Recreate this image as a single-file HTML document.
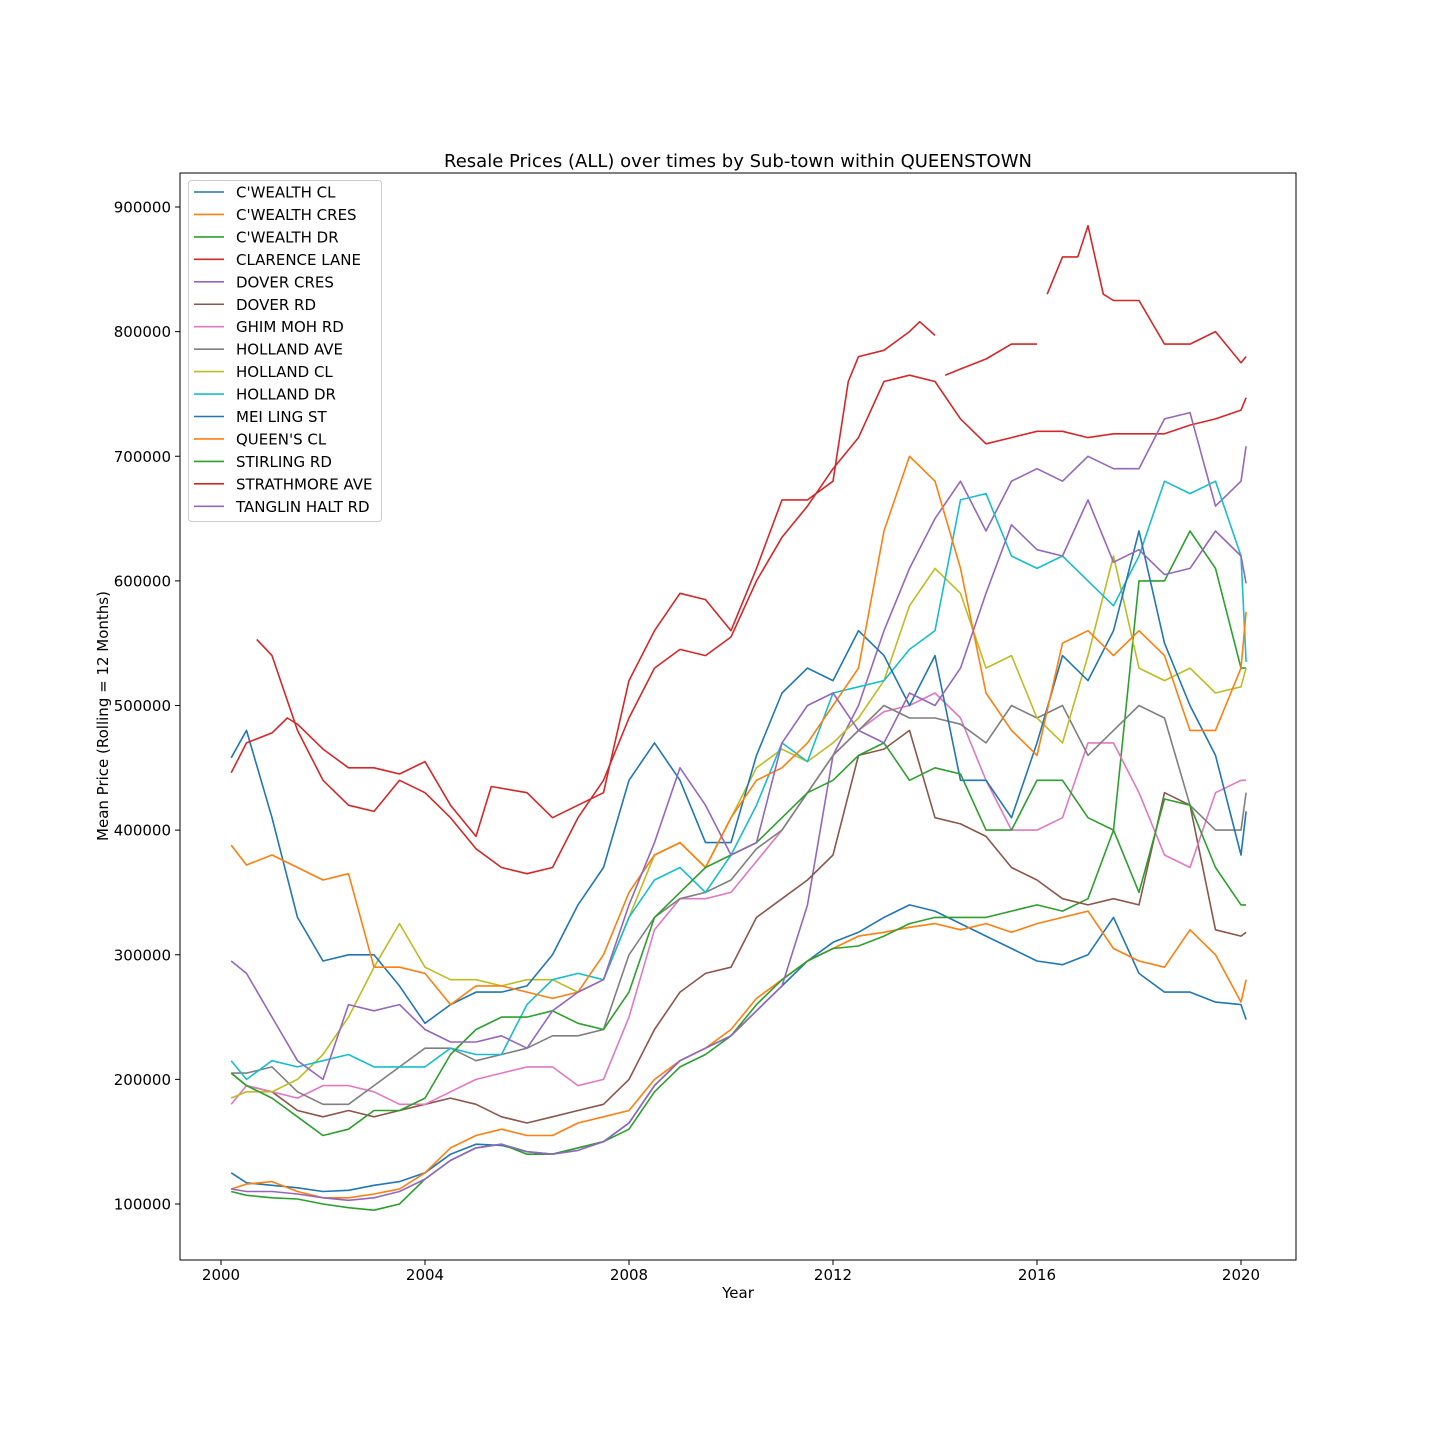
<!DOCTYPE html>
<html><head><meta charset="utf-8"><style>
html,body{margin:0;padding:0;background:#fff;}
svg{display:block;font-family:"DejaVu Sans","Liberation Sans",sans-serif;}
</style></head><body>
<svg id="chart" width="1440" height="1440" viewBox="0 0 1440 1440"></svg>
<script>
const grid = [2000.2,2000.5,2001,2001.5,2002,2002.5,2003,2003.5,2004,2004.5,2005,2005.5,2006,2006.5,2007,2007.5,2008,2008.5,2009,2009.5,2010,2010.5,2011,2011.5,2012,2012.5,2013,2013.5,2014,2014.5,2015,2015.5,2016,2016.5,2017,2017.5,2018,2018.5,2019,2019.5,2020,2020.1];
const seriesNames = ["C'WEALTH CL","C'WEALTH CRES","C'WEALTH DR","CLARENCE LANE","DOVER CRES","DOVER RD","GHIM MOH RD","HOLLAND AVE","HOLLAND CL","HOLLAND DR","MEI LING ST","QUEEN'S CL","STIRLING RD","STRATHMORE AVE","TANGLIN HALT RD"];
const xTicks = [2000,2004,2008,2012,2016,2020];
const yTicks = [100000,200000,300000,400000,500000,600000,700000,800000,900000];
// values in thousands
const cwealthCl = [125,117,115,113,110,111,115,118,125,140,148,147,142,140,145,150,165,195,215,225,235,255,275,295,310,318,330,340,335,325,315,305,295,292,300,330,285,270,270,262,260,248];
const cwealthCres = [112,116,118,110,105,105,108,112,125,145,155,160,155,155,165,170,175,200,215,225,240,265,280,295,305,315,318,322,325,320,325,318,325,330,335,305,295,290,320,300,262,280];
const cwealthDr = [110,107,105,104,100,97,95,100,120,135,145,148,140,140,145,150,160,190,210,220,235,260,280,295,305,307,315,325,330,330,330,335,340,335,345,400,600,600,640,610,530,530];
const clarenceDates = [2000.7,2001,2001.5,2002,2002.5,2003,2003.5,2004,2004.5,2005,2005.5,2006,2006.5,2007,2007.5,2008,2008.5,2009,2009.5,2010,2010.5,2011,2011.5,2012,2012.5,2013,2013.5,2014,2014.5,2015,2015.5,2016,2016.5,2017,2017.5,2018,2018.5,2019,2019.5,2020,2020.1];
const clarenceLane = [553,540,480,440,420,415,440,430,410,385,370,365,370,410,440,490,530,545,540,555,600,635,660,690,715,760,765,760,730,710,715,720,720,715,718,718,718,725,730,737,747];
const doverCres = [112,110,110,108,105,103,105,110,120,135,145,148,142,140,143,150,165,195,215,225,235,255,275,340,460,500,560,610,650,680,640,680,690,680,700,690,690,730,735,660,680,708];
const doverRd = [205,195,190,175,170,175,170,175,180,185,180,170,165,170,175,180,200,240,270,285,290,330,345,360,380,460,465,480,410,405,395,370,360,345,340,345,340,430,420,320,315,318];
const ghimMohRd = [180,195,190,185,195,195,190,180,180,190,200,205,210,210,195,200,250,320,345,345,350,375,400,430,460,480,495,500,510,490,440,400,400,410,470,470,430,380,370,430,440,440];
const hollandAve = [205,205,210,190,180,180,195,210,225,225,215,220,225,235,235,240,300,330,345,350,360,385,400,430,460,480,500,490,490,485,470,500,490,500,460,480,500,490,420,400,400,430];
const hollandCl = [185,190,190,200,220,250,290,325,290,280,280,275,280,280,270,280,330,380,390,370,410,450,465,455,470,490,520,580,610,590,530,540,490,470,540,620,530,520,530,510,515,530];
const hollandDr = [215,200,215,210,215,220,210,210,210,225,220,220,260,280,285,280,330,360,370,350,380,420,470,455,510,515,520,545,560,665,670,620,610,620,600,580,620,680,670,680,620,535];
const meiLingSt = [458,480,410,330,295,300,300,275,245,260,270,270,275,300,340,370,440,470,440,390,390,460,510,530,520,560,540,500,540,440,440,410,470,540,520,560,640,550,500,460,380,415];
const queensCl = [388,372,380,370,360,365,290,290,285,260,275,275,270,265,270,300,350,380,390,370,410,440,450,470,500,530,640,700,680,610,510,480,460,550,560,540,560,540,480,480,530,575];
const stirlingRd = [205,195,185,170,155,160,175,175,185,220,240,250,250,255,245,240,270,330,350,370,380,390,410,430,440,460,470,440,450,445,400,400,440,440,410,400,350,425,420,370,340,340];
const strathDates = [2000.2,2000.5,2001,2001.3,2001.5,2002,2002.5,2003,2003.5,2004,2004.5,2005,2005.3,2006,2006.5,2007,2007.5,2008,2008.5,2009,2009.5,2010,2010.5,2011,2011.5,2012,2012.3,2012.5,2013,2013.5,2013.7,2014,2014.1,2014.2,2014.5,2015,2015.5,2016,2016.1,2016.2,2016.5,2016.8,2017,2017.3,2017.5,2018,2018.5,2019,2019.5,2020,2020.1];
const strathmoreAve = [446,470,478,490,485,465,450,450,445,455,420,395,435,430,410,420,430,520,560,590,585,560,610,665,665,680,760,780,785,800,808,797,null,765,770,778,790,790,null,830,860,860,885,830,825,825,790,790,800,775,780];
const tanglinHaltRd = [295,285,250,215,200,260,255,260,240,230,230,235,225,255,270,280,340,390,450,420,380,390,470,500,510,480,470,510,500,530,590,645,625,620,665,615,625,605,610,640,620,598];

const seriesValues = [cwealthCl,cwealthCres,cwealthDr,clarenceLane,doverCres,doverRd,ghimMohRd,hollandAve,hollandCl,hollandDr,meiLingSt,queensCl,stirlingRd,strathmoreAve,tanglinHaltRd];
const seriesDates = [grid,grid,grid,clarenceDates,grid,grid,grid,grid,grid,grid,grid,grid,grid,strathDates,grid];
const colors = ["#1f77b4","#ff7f0e","#2ca02c","#d62728","#9467bd","#8c564b","#e377c2","#7f7f7f","#bcbd22","#17becf","#1f77b4","#ff7f0e","#2ca02c","#d62728","#9467bd"];

const L=180,R=1296,T=173,B=1260;
const xs = v => 221 + (v-2000)*51;
const ys = v => 1204 - (v-100000)*(997/800000);
const NS="http://www.w3.org/2000/svg";
const svg=document.getElementById('chart');
function mk(tag,attrs,parent){const e=document.createElementNS(NS,tag);for(const k in attrs)e.setAttribute(k,attrs[k]);(parent||svg).appendChild(e);return e;}

const gSeries=mk('g',{});


seriesValues.forEach((vals,i)=>{
  const dates=seriesDates[i];let d='';let pen=false;
  vals.forEach((v,j)=>{
    if(v===null){pen=false;return;}
    d+=(pen?'L':'M')+xs(dates[j]).toFixed(1)+' '+ys(v*1000).toFixed(1);pen=true;
  });
  const p=mk('path',{d:d,fill:'none',stroke:colors[i],'stroke-width':1.6,'stroke-linejoin':'round'},gSeries);
  
  
});

const fr=mk('rect',{x:L,y:T,width:R-L,height:B-T,fill:'none',stroke:'#000','stroke-width':1});



xTicks.forEach(t=>{
  const x=xs(t);
  mk('line',{x1:x,y1:B,x2:x,y2:B+5,stroke:'#000','stroke-width':1});
  const tx=mk('text',{x:x,y:B+20,'font-size':15,'text-anchor':'middle',fill:'#000'});
  tx.textContent=t;
  
  
});
yTicks.forEach(t=>{
  const y=ys(t);
  mk('line',{x1:L-5,y1:y,x2:L,y2:y,stroke:'#000','stroke-width':1});
  const tx=mk('text',{x:L-9,y:y+5.5,'font-size':15,'text-anchor':'end',fill:'#000'});
  tx.textContent=t;
  
  
});
const xt=mk('text',{x:738,y:1298,'font-size':15,'text-anchor':'middle'});xt.textContent='Year';


const yt=mk('text',{x:0,y:0,'font-size':15,'text-anchor':'middle',transform:'translate(108,716) rotate(-90)'});yt.textContent='Mean Price (Rolling = 12 Months)';


const ti=mk('text',{x:738,y:167,'font-size':18,'text-anchor':'middle'});ti.textContent='Resale Prices (ALL) over times by Sub-town within QUEENSTOWN';



const lg=mk('g',{});


mk('rect',{x:188.5,y:180.5,width:193,height:341,rx:3,fill:'#fff','fill-opacity':0.8,stroke:'#ccc'},lg);
seriesNames.forEach((n,i)=>{
  const y=192+i*22.45;
  const en=mk('g',{},lg);
  
  
  mk('line',{x1:194,y1:y,x2:224,y2:y,stroke:colors[i],'stroke-width':1.6},en);
  const t=mk('text',{x:236,y:y+5.5,'font-size':15},en);t.textContent=n;
});
</script>
</body></html>
